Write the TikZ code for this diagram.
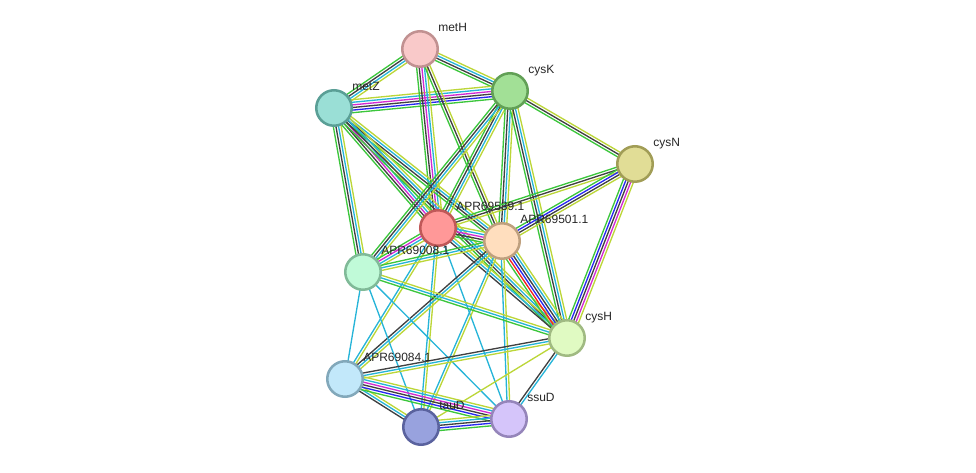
\documentclass[tikz,border=0pt]{standalone}
\usepackage{fontspec}
\setmainfont{Liberation Sans}
\usepackage{tikz}
\usetikzlibrary{calc,backgrounds}

% evidence channel colours
\definecolor{sgreen}{HTML}{3CC63C}
\definecolor{sred}{HTML}{F52020}
\definecolor{sblue}{HTML}{2828F0}
\definecolor{sblack}{HTML}{404040}
\definecolor{smag}{HTML}{D22AD2}
\definecolor{scyan}{HTML}{26B4D8}
\definecolor{syel}{HTML}{BCD638}

% one bundle of parallel evidence lines between two proteins
\newcommand\bundle[3]{%
  \gdef\nlines{0}%
  \foreach \c in {#3} {\pgfmathtruncatemacro\tmp{\nlines+1}\global\let\nlines\tmp}%
  \foreach \c [count=\i] in {#3} {%
    \pgfmathsetmacro\off{(\i-(\nlines+1)/2)*1.95}%
    \draw[evid, \c] ($(#1.center)!\off pt!90:(#2.center)$) -- ($(#2.center)!\off pt!-90:(#1.center)$);
  }}

\begin{document}
\begin{tikzpicture}[
    x=0.75pt, y=-0.75pt,
    prot/.style={circle, line width=1.9pt, minimum size=26.6pt, inner sep=0pt},
    lbl/.style={anchor=base west, inner sep=0pt, font=\fontsize{9}{10}\selectfont, text=black!85},
    evid/.style={line width=1pt}]
    \useasboundingbox (0,0) rectangle (976,473);

    % proteins
    \foreach \n/\x/\y/\f/\d/\t in {
        metH/420/49/F9C9C9/C19191/metH,
        cysK/510/91/A2E096/62A056/cysK,
        metZ/334/108/9ADFD6/5A9F96/metZ,
        cysN/635/164/E1DD96/A19D56/cysN,
        A539/438/228/FF9898/C05858/APR69539.1,
        A501/502/241/FFDEBE/BFA07E/APR69501.1,
        A008/363/272/C0FAD8/80BA98/APR69008.1,
        cysH/567/338/E0FAC2/A0BA82/cysH,
        A084/345/379/C2E8FA/82A8BA/APR69084.1,
        tauD/421/427/98A2DE/5A629E/tauD,
        ssuD/509/419/D5C5FA/9585BA/ssuD} {
        \definecolor{fc}{HTML}{\f}\definecolor{dc}{HTML}{\d}
        \node[prot, fill=fc, draw=dc] (\n) at (\x,\y) {};
        \node[lbl] (\n-t) at ([shift={(18,-17)}]\n.center) {\t};
    }

    % interactions
    \begin{pgfonlayer}{background}
    \bundle{metH}{metZ}{sgreen,sblack,scyan,syel}
    \bundle{metH}{cysK}{sgreen,sblack,scyan,syel}
    \bundle{metZ}{cysK}{sgreen,sblue,sblack,smag,scyan,syel}
    \bundle{metH}{A539}{sgreen,sblack,smag,scyan,syel}
    \bundle{metH}{A501}{sgreen,sblack,syel}
    \bundle{metZ}{A539}{sgreen,sblack,smag,scyan,syel}
    \bundle{metZ}{A501}{sgreen,sblack,scyan,syel}
    \bundle{metZ}{A008}{sgreen,sblack,scyan,syel}
    \bundle{metZ}{cysH}{sgreen,sblack,scyan,syel}
    \bundle{cysK}{cysN}{sgreen,sblack,syel}
    \bundle{cysK}{A539}{sgreen,sblack,scyan,syel}
    \bundle{cysK}{A008}{sgreen,sblack,scyan,syel}
    \bundle{cysK}{A501}{sgreen,sblack,scyan,syel}
    \bundle{cysK}{cysH}{sgreen,sblack,scyan,syel}
    \bundle{cysN}{A539}{sgreen,sblack,syel}
    \bundle{cysN}{A501}{sgreen,sblue,sblack,syel}
    \bundle{cysN}{cysH}{sgreen,sblue,sblack,smag,syel}
    \bundle{A539}{A501}{sgreen,sblack,smag,scyan,syel}
    \bundle{A539}{A008}{sgreen,smag,scyan,syel}
    \bundle{A539}{cysH}{sblack,scyan,syel}
    \bundle{A539}{A084}{scyan,syel}
    \bundle{A539}{tauD}{scyan,syel}
    \bundle{A539}{ssuD}{scyan}
    \bundle{A501}{A008}{sgreen,scyan,syel}
    \bundle{A501}{cysH}{sgreen,sred,sblue,sblack,scyan,syel}
    \bundle{A501}{A084}{sblack,scyan,syel}
    \bundle{A501}{tauD}{scyan,syel}
    \bundle{A501}{ssuD}{scyan,syel}
    \bundle{A008}{cysH}{sgreen,scyan,syel}
    \bundle{A008}{A084}{scyan}
    \bundle{A008}{tauD}{scyan}
    \bundle{A008}{ssuD}{scyan}
    \bundle{cysH}{A084}{sblack,scyan,syel}
    \bundle{cysH}{tauD}{syel}
    \bundle{cysH}{ssuD}{sblack,scyan}
    \bundle{A084}{tauD}{sblack,scyan,syel}
    \bundle{A084}{ssuD}{sgreen,sblue,sblack,smag,scyan,syel}
    \bundle{tauD}{ssuD}{sgreen,sblue,sblack,scyan,syel}
    \end{pgfonlayer}
\end{tikzpicture}
\end{document}
